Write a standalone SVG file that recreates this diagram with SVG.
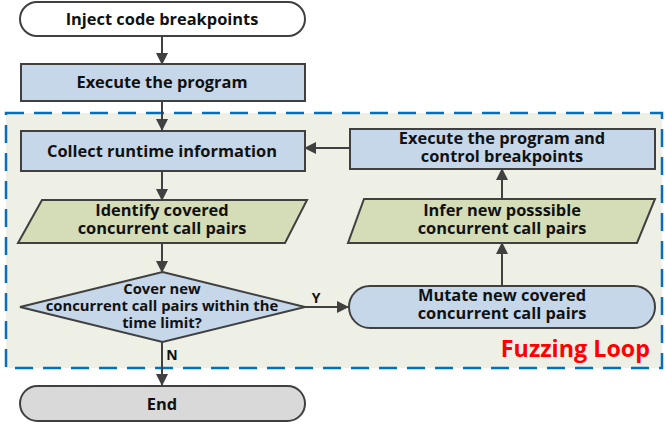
<svg xmlns="http://www.w3.org/2000/svg" width="665" height="426" viewBox="0 0 665 426">
<defs>
<marker id="ah" markerWidth="12" markerHeight="12" viewBox="0 0 12 12" refX="11" refY="6" orient="auto" markerUnits="userSpaceOnUse">
<path d="M0,0 L12,6 L0,12 Z" fill="#404040"/>
</marker>
<style>
.t{font-family:"Open Sans",Lato,"Liberation Sans",sans-serif;font-weight:bold;font-size:16.4px;fill:#111;text-anchor:middle}
.d{font-size:14.8px}
.n{stroke:#404040;stroke-width:2}
.blue{fill:#C5D7E8}
.green{fill:#D5DCB8}
.white{fill:#FFFFFF}
.grey{fill:#D9D9D9}
.c{stroke:#404040;stroke-width:2;fill:none;marker-end:url(#ah)}
</style>
</defs>
<rect width="665" height="426" fill="#FFFFFF"/>
<g id="loop">
<rect x="6" y="113" width="656" height="255" fill="#EEF0E6" stroke="#0070C0" stroke-width="2.5" stroke-dasharray="18 10"/>
<text x="650" y="357" font-family="'Open Sans',Lato,'Liberation Sans',sans-serif" font-weight="bold" font-size="23.3" fill="#FF0000" text-anchor="end">Fuzzing Loop</text>
</g>
<g id="connectors">
<line class="c" x1="162" y1="36" x2="162" y2="64"/>
<line class="c" x1="162" y1="101" x2="162" y2="130"/>
<line class="c" x1="162" y1="171" x2="162" y2="200"/>
<line class="c" x1="162" y1="243" x2="162" y2="272"/>
<line class="c" x1="305" y1="307" x2="348" y2="307"/>
<line class="c" x1="162" y1="342" x2="162" y2="385"/>
<line class="c" x1="502" y1="286" x2="502" y2="243"/>
<line class="c" x1="502" y1="199" x2="502" y2="169"/>
<line class="c" x1="350" y1="148" x2="305" y2="148"/>
<text class="t" x="316" y="303" style="font-size:14px">Y</text>
<text class="t" x="172" y="360" style="font-size:14px">N</text>
</g>
<g id="inject">
<rect class="n white" x="20" y="2" width="285" height="34" rx="17"/>
<text class="t" x="162" y="25">Inject code breakpoints</text>
</g>
<g id="execute">
<rect class="n blue" x="21" y="64" width="284" height="37"/>
<text class="t" x="162" y="88">Execute the program</text>
</g>
<g id="collect">
<rect class="n blue" x="21" y="131" width="284" height="40"/>
<text class="t" x="162" y="157">Collect runtime information</text>
</g>
<g id="identify">
<polygon class="n green" points="42,200 307,200 285,243 18,243"/>
<text class="t" x="162" y="216">Identify covered</text>
<text class="t" x="162" y="234">concurrent call pairs</text>
</g>
<g id="decision">
<polygon class="n blue" points="162.5,272 305,307 162.5,342 20,307"/>
<text class="t d" x="162" y="293.5">Cover new</text>
<text class="t d" x="162" y="310.5">concurrent call pairs within the</text>
<text class="t d" x="162" y="327.5">time limit?</text>
</g>
<g id="end">
<rect class="n grey" x="20" y="386" width="285" height="35" rx="17.5"/>
<text class="t" x="162" y="410">End</text>
</g>
<g id="control">
<rect class="n blue" x="350" y="129" width="305" height="40"/>
<text class="t" x="502" y="143.5">Execute the program and</text>
<text class="t" x="502" y="161.5">control breakpoints</text>
</g>
<g id="infer">
<polygon class="n green" points="364,199 655,199 637,243 348,243"/>
<text class="t" x="502" y="216">Infer new posssible</text>
<text class="t" x="502" y="234">concurrent call pairs</text>
</g>
<g id="mutate">
<rect class="n blue" x="349" y="286" width="306" height="42" rx="21"/>
<text class="t" x="502" y="301">Mutate new covered</text>
<text class="t" x="502" y="319">concurrent call pairs</text>
</g>
</svg>
